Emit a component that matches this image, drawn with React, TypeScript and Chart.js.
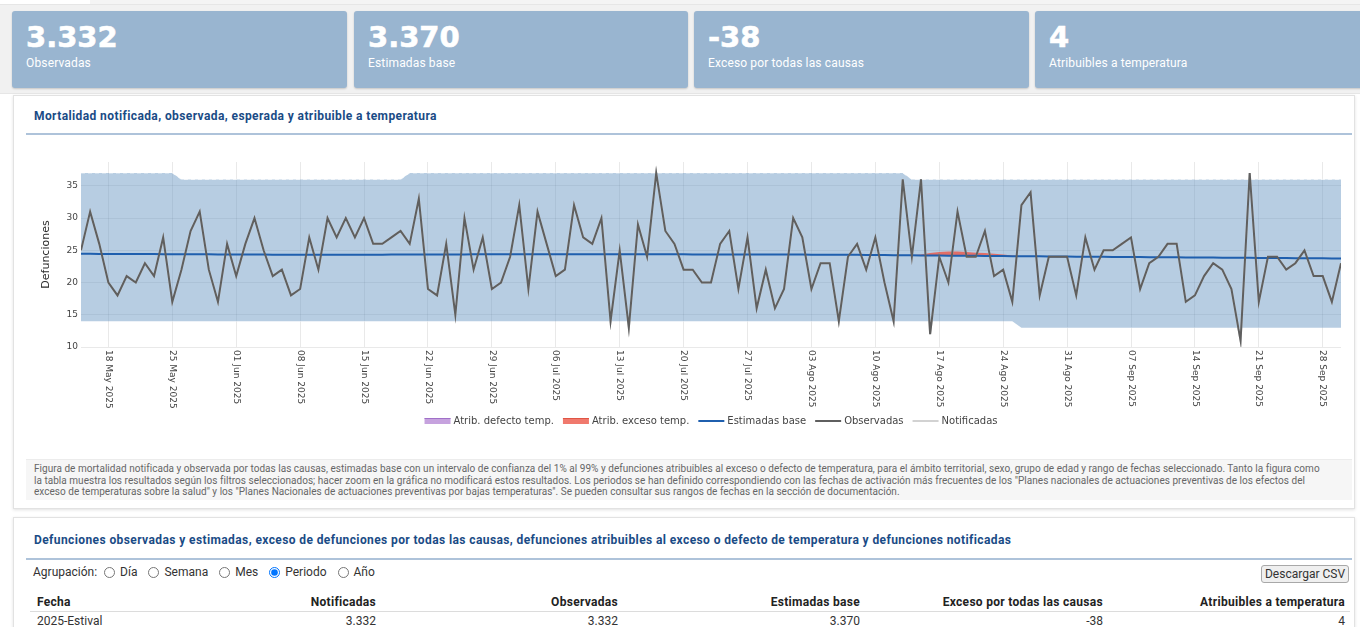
import React, { useEffect, useRef } from "react";
import { Chart, registerables } from "chart.js";

Chart.register(...registerables);

// ---------- DATA ----------
const fechaInicio = "2025-05-15"; // first day of the series (one value per day)

const observadas = [
  25, 31, 26, 20, 18, 21, 20, 23, 21, 27,
  17, 22, 28, 31, 22, 17, 26, 21, 26, 30,
  25, 21, 22, 18, 19, 27, 22, 30, 27, 30,
  27, 30, 26, 26, 27, 28, 26, 33, 19, 18,
  26, 15, 30, 22, 27, 19, 20, 24, 32, 19,
  31, 26, 21, 22, 32, 27, 26, 30, 14, 25,
  13, 29, 24, 37, 28, 26, 22, 22, 20, 20,
  26, 28, 19, 27, 16, 22, 16, 19, 30, 27,
  19, 23, 23, 14, 24, 26, 22, 27, 20, 14,
  36, 24, 36, 12, 24, 20, 31, 24, 24, 28,
  21, 22, 17, 32, 34, 18, 24, 24, 24, 18,
  27, 22, 25, 25, 26, 27, 19, 23, 24, 26,
  26, 17, 18, 21, 23, 22, 19, 11, 37, 17,
  24, 24, 22, 23, 25, 21, 21, 17, 23,
];

// Notified deaths coincide with the observed ones in this period (3.332 both)
const notificadas = observadas.slice();

const estimadasBase = [
  24.45, 24.45, 24.44, 24.44, 24.43, 24.43, 24.42, 24.42, 24.41, 24.40,
  24.40, 24.39, 24.38, 24.38, 24.37, 24.36, 24.36, 24.35, 24.35, 24.34,
  24.34, 24.33, 24.33, 24.32, 24.32, 24.31,
  24.31, 24.31, 24.32, 24.32, 24.32, 24.33, 24.33, 24.33, 24.34, 24.34,
  24.34, 24.35, 24.35, 24.35, 24.36, 24.36, 24.36, 24.37, 24.37, 24.37,
  24.37, 24.38, 24.38, 24.38, 24.38, 24.38, 24.38,
  24.38, 24.38, 24.38, 24.38, 24.38, 24.38, 24.38, 24.38, 24.37, 24.37,
  24.37, 24.37, 24.37, 24.37, 24.36, 24.36, 24.36, 24.36, 24.36, 24.36,
  24.35, 24.35, 24.35, 24.35, 24.34, 24.34, 24.34, 24.33, 24.33, 24.33,
  24.32, 24.31, 24.30, 24.29, 24.28, 24.26, 24.25, 24.24, 24.22, 24.21,
  24.20, 24.19, 24.17, 24.16, 24.15, 24.14, 24.12, 24.11, 24.10, 24.09,
  24.08, 24.07, 24.06, 24.05, 24.04, 24.03, 24.02, 24.01,
  24.00, 23.99, 23.98, 23.97, 23.96, 23.95, 23.94, 23.93, 23.92, 23.91,
  23.90, 23.89, 23.88, 23.87, 23.86, 23.85, 23.84, 23.83, 23.82, 23.81,
  23.80, 23.79, 23.78, 23.77, 23.76, 23.75, 23.74, 23.73,
];

const limiteSuperior = [
  37, 37, 37, 37, 37, 37, 37, 37, 37, 37,
  37, 36, 36, 36, 36, 36, 36, 36, 36, 36,
  36, 36, 36, 36, 36, 36, 36, 36, 36, 36,
  36, 36, 36, 36, 36, 36, 37, 37, 37, 37,
  37, 37, 37, 37, 37, 37, 37, 37, 37, 37,
  37, 37, 37, 37, 37, 37, 37, 37, 37, 37,
  37, 37, 37, 37, 37, 37, 37, 37, 37, 37,
  37, 37, 37, 37, 37, 37, 37, 37, 37, 37,
  37, 37, 37, 37, 37, 37, 37, 37, 37, 37,
  37, 36, 36, 36, 36, 36, 36, 36, 36, 36,
  36, 36, 36, 36, 36, 36, 36, 36, 36, 36,
  36, 36, 36, 36, 36, 36, 36, 36, 36, 36,
  36, 36, 36, 36, 36, 36, 36, 36, 36, 36,
  36, 36, 36, 36, 36, 36, 36, 36, 36,
];

const limiteInferior = [
  14, 14, 14, 14, 14, 14, 14, 14, 14, 14,
  14, 14, 14, 14, 14, 14, 14, 14, 14, 14,
  14, 14, 14, 14, 14, 14, 14, 14, 14, 14,
  14, 14, 14, 14, 14, 14, 14, 14, 14, 14,
  14, 14, 14, 14, 14, 14, 14, 14, 14, 14,
  14, 14, 14, 14, 14, 14, 14, 14, 14, 14,
  14, 14, 14, 14, 14, 14, 14, 14, 14, 14,
  14, 14, 14, 14, 14, 14, 14, 14, 14, 14,
  14, 14, 14, 14, 14, 14, 14, 14, 14, 14,
  14, 14, 14, 14, 14, 14, 14, 14, 14, 14,
  14, 14, 14, 13, 13, 13, 13, 13, 13, 13,
  13, 13, 13, 13, 13, 13, 13, 13, 13, 13,
  13, 13, 13, 13, 13, 13, 13, 13, 13, 13,
  13, 13, 13, 13, 13, 13, 13, 13, 13,
];

// Deaths attributable to excess heat (only non-zero stretch, starting 15 Aug)
const excesoInicio = "2025-08-15";
const excesoTemp = [0.15, 0.4, 0.55, 0.65, 0.65, 0.6, 0.5, 0.45, 0.35, 0.25, 0.1];
// Deaths attributable to cold: none in this period
const defectoTemp: number[] = [];

const xTickLabels = [
  "18 May 2025", "25 May 2025", "01 Jun 2025", "08 Jun 2025", "15 Jun 2025",
  "22 Jun 2025", "29 Jun 2025", "06 Jul 2025", "13 Jul 2025", "20 Jul 2025",
  "27 Jul 2025", "03 Ago 2025", "10 Ago 2025", "17 Ago 2025", "24 Ago 2025",
  "31 Ago 2025", "07 Sep 2025", "14 Sep 2025", "21 Sep 2025", "28 Sep 2025",
];
const yTicks = [10, 15, 20, 25, 30, 35];
const yTitle = "Defunciones";

const seriesLabels = [
  "Atrib. defecto temp.",
  "Atrib. exceso temp.",
  "Estimadas base",
  "Observadas",
  "Notificadas",
];

const cardValues = ["3.332", "3.370", "-38", "4"];
const cardLabels = ["Observadas", "Estimadas base", "Exceso por todas las causas", "Atribuibles a temperatura"];

const agrupaciones = ["Día", "Semana", "Mes", "Periodo", "Año"];
const tablaCabecera = ["Fecha", "Notificadas", "Observadas", "Estimadas base", "Exceso por todas las causas", "Atribuibles a temperatura"];
const tablaFila = ["2025-Estival", "3.332", "3.332", "3.370", "-38", "4"];

// ---------- helpers ----------
const monthIdx: Record<string, number> = { May: 4, Jun: 5, Jul: 6, Ago: 7, Sep: 8 };
const DAY = 86400000;
const t0 = Date.parse(fechaInicio + "T00:00:00Z");
const dayIndexFromLabel = (lab: string) => {
  const [d, m, y] = lab.split(" ");
  return Math.round((Date.UTC(+y, monthIdx[m], +d) - t0) / DAY);
};
const tickDays = xTickLabels.map(dayIndexFromLabel);
const excesoStart = Math.round((Date.parse(excesoInicio + "T00:00:00Z") - t0) / DAY);

const N = observadas.length;
const pts = (arr: number[]) => arr.map((y, i) => ({ x: i, y }));

const COLORS = {
  band: "rgba(112,155,198,0.5)",
  base: "#1f5fae",
  obs: "#5f5f5f",
  notif: "#d2d2d2",
  exceso: "rgba(236,88,72,0.8)",
  excesoEdge: "#e05545",
  defecto: "rgba(160,100,200,0.6)",
  defectoEdge: "#a070c8",
};

const customDraw = {
  id: "customDraw",
  afterDraw(chart: any) {
    const { ctx, chartArea, scales } = chart;
    ctx.save();
    // rotated x tick labels (clockwise)
    ctx.font = '9px "DejaVu Sans"';
    ctx.fillStyle = "#444";
    ctx.textAlign = "left";
    ctx.textBaseline = "middle";
    tickDays.forEach((d, k) => {
      const x = scales.x.getPixelForValue(d);
      ctx.save();
      ctx.translate(x, chartArea.bottom + 3);
      ctx.rotate(Math.PI / 2);
      ctx.fillText(xTickLabels[k], 0, 0);
      ctx.restore();
    });
    // y title
    ctx.save();
    ctx.translate(26, (chartArea.top + chartArea.bottom) / 2);
    ctx.rotate(-Math.PI / 2);
    ctx.textAlign = "center";
    ctx.font = '11px "DejaVu Sans"';
    ctx.fillStyle = "#2a2a2a";
    ctx.fillText(yTitle, 0, 0);
    ctx.restore();
    // legend
    const items = [
      { label: seriesLabels[0], kind: "area", fill: COLORS.defecto, edge: COLORS.defectoEdge },
      { label: seriesLabels[1], kind: "area", fill: COLORS.exceso, edge: COLORS.excesoEdge },
      { label: seriesLabels[2], kind: "line", edge: COLORS.base },
      { label: seriesLabels[3], kind: "line", edge: COLORS.obs },
      { label: seriesLabels[4], kind: "line", edge: COLORS.notif },
    ];
    ctx.font = '10px "DejaVu Sans"';
    const sw = 26, gap = 3, itemGap = 9;
    const widths = items.map((it) => ctx.measureText(it.label).width);
    const total = widths.reduce((a, w) => a + sw + gap + w, 0) + itemGap * (items.length - 1);
    let x = (chartArea.left + chartArea.right) / 2 - total / 2;
    const ly = 281;
    items.forEach((it, k) => {
      if (it.kind === "area") {
        ctx.fillStyle = it.fill as string;
        ctx.fillRect(x, ly - 3, sw, 6);
        ctx.strokeStyle = it.edge;
        ctx.lineWidth = 1;
        ctx.beginPath();
        ctx.moveTo(x, ly - 2.5);
        ctx.lineTo(x + sw, ly - 2.5);
        ctx.stroke();
      } else {
        ctx.strokeStyle = it.edge;
        ctx.lineWidth = 2;
        ctx.beginPath();
        ctx.moveTo(x, ly);
        ctx.lineTo(x + sw, ly);
        ctx.stroke();
      }
      ctx.fillStyle = "#444";
      ctx.textAlign = "left";
      ctx.textBaseline = "middle";
      ctx.fillText(it.label, x + sw + gap, ly);
      x += sw + gap + widths[k] + itemGap;
    });
    ctx.restore();
  },
};

function MortalityChart() {
  const ref = useRef<HTMLCanvasElement>(null);
  useEffect(() => {
    const exc = estimadasBase.map((b, i) => {
      const k = i - excesoStart;
      return b + (k >= 0 && k < excesoTemp.length ? excesoTemp[k] : 0);
    });
    const def = estimadasBase.map((b, i) => b - (defectoTemp[i] || 0));
    const chart = new Chart(ref.current as HTMLCanvasElement, {
      type: "line",
      data: {
        datasets: [
          { label: seriesLabels[3], data: pts(observadas), borderColor: COLORS.obs, borderWidth: 2, fill: false },
          { label: seriesLabels[2], data: pts(estimadasBase), borderColor: COLORS.base, borderWidth: 2, fill: false },
          { label: seriesLabels[4], data: pts(notificadas), borderColor: COLORS.notif, borderWidth: 2, fill: false },
          { label: seriesLabels[1], data: pts(exc), borderColor: "rgba(0,0,0,0)", borderWidth: 0, backgroundColor: COLORS.exceso, fill: 1 },
          { label: seriesLabels[0], data: pts(def), borderColor: "rgba(0,0,0,0)", borderWidth: 0, backgroundColor: COLORS.defecto, fill: 1 },
          { label: "IC 99%", data: pts(limiteSuperior), borderColor: "rgba(255,255,255,0.7)", borderWidth: 1, borderDash: [4, 3], backgroundColor: COLORS.band, fill: "+1" },
          { label: "IC 1%", data: pts(limiteInferior), borderColor: "rgba(255,255,255,0.7)", borderWidth: 1, borderDash: [4, 3], fill: false },
        ] as any,
      },
      options: {
        animation: false,
        responsive: false,
        events: [],
        layout: { padding: { top: 22, right: 9, left: 0, bottom: 0 } },
        elements: { point: { radius: 0 }, line: { tension: 0 } },
        plugins: { legend: { display: false }, tooltip: { enabled: false } },
        scales: {
          x: {
            type: "linear",
            min: 0,
            max: N - 1,
            afterBuildTicks: (s: any) => {
              s.ticks = tickDays.map((v) => ({ value: v }));
            },
            afterFit: (s: any) => {
              s.height = 93;
            },
            ticks: { display: false },
            grid: { color: "rgba(0,0,0,0.085)", drawTicks: false },
            border: { display: false },
          },
          y: {
            min: 10,
            max: 38.7,
            afterBuildTicks: (s: any) => {
              s.ticks = yTicks.map((v) => ({ value: v }));
            },
            afterFit: (s: any) => {
              s.width = 61;
            },
            ticks: { font: { family: "DejaVu Sans", size: 9 }, color: "#444", padding: 3 },
            grid: { color: "rgba(0,0,0,0.085)", drawTicks: false },
            border: { display: false },
          },
        },
      } as any,
      plugins: [customDraw],
    });
    return () => chart.destroy();
  }, []);
  return <canvas ref={ref} width={1330} height={300} style={{ position: "absolute", left: 20, top: 140, width: 1330, height: 300 }} />;
}

const FONT = "Roboto, 'Noto Sans', sans-serif";
const TITLE_COLOR = "#1a4b86";

export default function App() {
  const cardLeft = [12, 354, 694, 1035];
  const cardWidth = [335, 334, 335, 335];
  const colRight = [0, 376, 618, 860, 1103, 1345];
  return (
    <div style={{ position: "absolute", left: 0, top: 0, width: 1360, height: 627, overflow: "hidden", background: "#fff", fontFamily: FONT }}>
      {/* top strip */}
      <div style={{ position: "absolute", left: 0, top: 0, width: 1360, height: 4, background: "#f4f4f4" }} />
      <div style={{ position: "absolute", left: 0, top: 0, width: 90, height: 4, background: "#fff" }} />
      <div style={{ position: "absolute", left: 0, top: 4, width: 1360, height: 90, background: "#f1f1f1", borderTop: "1px solid #e6e6e6", borderBottom: "1px solid #e6e6e6", boxSizing: "border-box" }} />
      {cardValues.map((v, i) => (
        <div key={i} style={{ position: "absolute", left: cardLeft[i], top: 11, width: cardWidth[i], height: 77, background: "#99b5d0", borderRadius: 3, boxShadow: "0 1px 2px rgba(0,0,0,0.18)" }}>
          <div style={{ position: "absolute", left: 14, top: 12, fontFamily: "'DejaVu Sans', sans-serif", fontWeight: 700, fontSize: 29, lineHeight: "29px", color: "#fff", whiteSpace: "nowrap", WebkitTextStroke: "0.6px #fff" }}>{v}</div>
          <div style={{ position: "absolute", left: 14, top: 45, fontSize: 12, lineHeight: "14px", color: "#fff", whiteSpace: "nowrap", letterSpacing: "0.15px" }}>{cardLabels[i]}</div>
        </div>
      ))}

      {/* chart panel */}
      <div style={{ position: "absolute", left: 13, top: 95, width: 1342, height: 414, background: "#fff", border: "1px solid #e2e2e2", boxShadow: "0 1px 3px rgba(0,0,0,0.12)", boxSizing: "border-box" }} />
      <div style={{ position: "absolute", left: 34, top: 109, fontSize: 12, lineHeight: "14px", fontWeight: 700, color: TITLE_COLOR, whiteSpace: "nowrap", letterSpacing: "0.4px" }}>
        Mortalidad notificada, observada, esperada y atribuible a temperatura
      </div>
      <div style={{ position: "absolute", left: 26, top: 133, width: 1326, height: 2, background: "#aec3da" }} />
      <MortalityChart />
      <div style={{ position: "absolute", left: 26, top: 459, width: 1326, height: 41, background: "#f6f6f6", borderTop: "1px solid #ececec", boxSizing: "border-box", overflow: "hidden" }}>
        <div style={{ position: "absolute", left: 8, top: 3, fontSize: 10, lineHeight: "11.5px", color: "#666", whiteSpace: "nowrap", letterSpacing: "0.03px" }}>
          Figura de mortalidad notificada y observada por todas las causas, estimadas base con un intervalo de confianza del 1% al 99% y defunciones atribuibles al exceso o defecto de temperatura, para el ámbito territorial, sexo, grupo de edad y rango de fechas seleccionado. Tanto la figura como
          <br />
          la tabla muestra los resultados según los filtros seleccionados; hacer zoom en la gráfica no modificará estos resultados. Los periodos se han definido correspondiendo con las fechas de activación más frecuentes de los "Planes nacionales de actuaciones preventivas de los efectos del
          <br />
          exceso de temperaturas sobre la salud" y los "Planes Nacionales de actuaciones preventivas por bajas temperaturas". Se pueden consultar sus rangos de fechas en la sección de documentación.
        </div>
      </div>

      {/* table panel */}
      <div style={{ position: "absolute", left: 13, top: 517, width: 1342, height: 130, background: "#fff", border: "1px solid #e2e2e2", boxShadow: "0 1px 3px rgba(0,0,0,0.12)", boxSizing: "border-box" }} />
      <div style={{ position: "absolute", left: 34, top: 533, fontSize: 12, lineHeight: "14px", fontWeight: 700, color: TITLE_COLOR, whiteSpace: "nowrap", letterSpacing: "0.4px" }}>
        Defunciones observadas y estimadas, exceso de defunciones por todas las causas, defunciones atribuibles al exceso o defecto de temperatura y defunciones notificadas
      </div>
      <div style={{ position: "absolute", left: 26, top: 558, width: 1326, height: 2, background: "#aec3da" }} />
      <div style={{ position: "absolute", left: 33, top: 565, height: 14, display: "flex", alignItems: "center", fontSize: 12, color: "#333", whiteSpace: "nowrap" }}>
        <span>Agrupación:</span>
        {agrupaciones.map((a, i) => (
          <label key={a} style={{ display: "flex", alignItems: "center", marginLeft: i === 0 ? 7 : 11 }}>
            <input type="radio" name="agr" defaultChecked={a === "Periodo"} style={{ margin: "0 5px 0 0", width: 11, height: 11 }} />
            {a}
          </label>
        ))}
      </div>
      <div style={{ position: "absolute", left: 1261, top: 565, width: 88, height: 18, boxSizing: "border-box", border: "1px solid #a8a8a8", borderRadius: 3, background: "#efefef", fontSize: 12, lineHeight: "16px", textAlign: "center", color: "#333" }}>
        Descargar CSV
      </div>
      {tablaCabecera.map((h, i) => (
        <div key={h} style={i === 0
          ? { position: "absolute", left: 37, top: 595, fontSize: 12, lineHeight: "14px", fontWeight: 700, color: "#222", whiteSpace: "nowrap", letterSpacing: "0.3px" }
          : { position: "absolute", left: colRight[i] - 240, width: 240, top: 595, fontSize: 12, lineHeight: "14px", fontWeight: 700, color: "#222", textAlign: "right", whiteSpace: "nowrap", letterSpacing: "0.3px" }}>
          {h}
        </div>
      ))}
      <div style={{ position: "absolute", left: 30, top: 611, width: 1320, height: 1, background: "#dcdcdc" }} />
      {tablaFila.map((c, i) => (
        <div key={i} style={i === 0
          ? { position: "absolute", left: 37, top: 614, fontSize: 12, lineHeight: "14px", color: "#333", whiteSpace: "nowrap" }
          : { position: "absolute", left: colRight[i] - 240, width: 240, top: 614, fontSize: 12, lineHeight: "14px", color: "#333", textAlign: "right", whiteSpace: "nowrap" }}>
          {c}
        </div>
      ))}
    </div>
  );
}
